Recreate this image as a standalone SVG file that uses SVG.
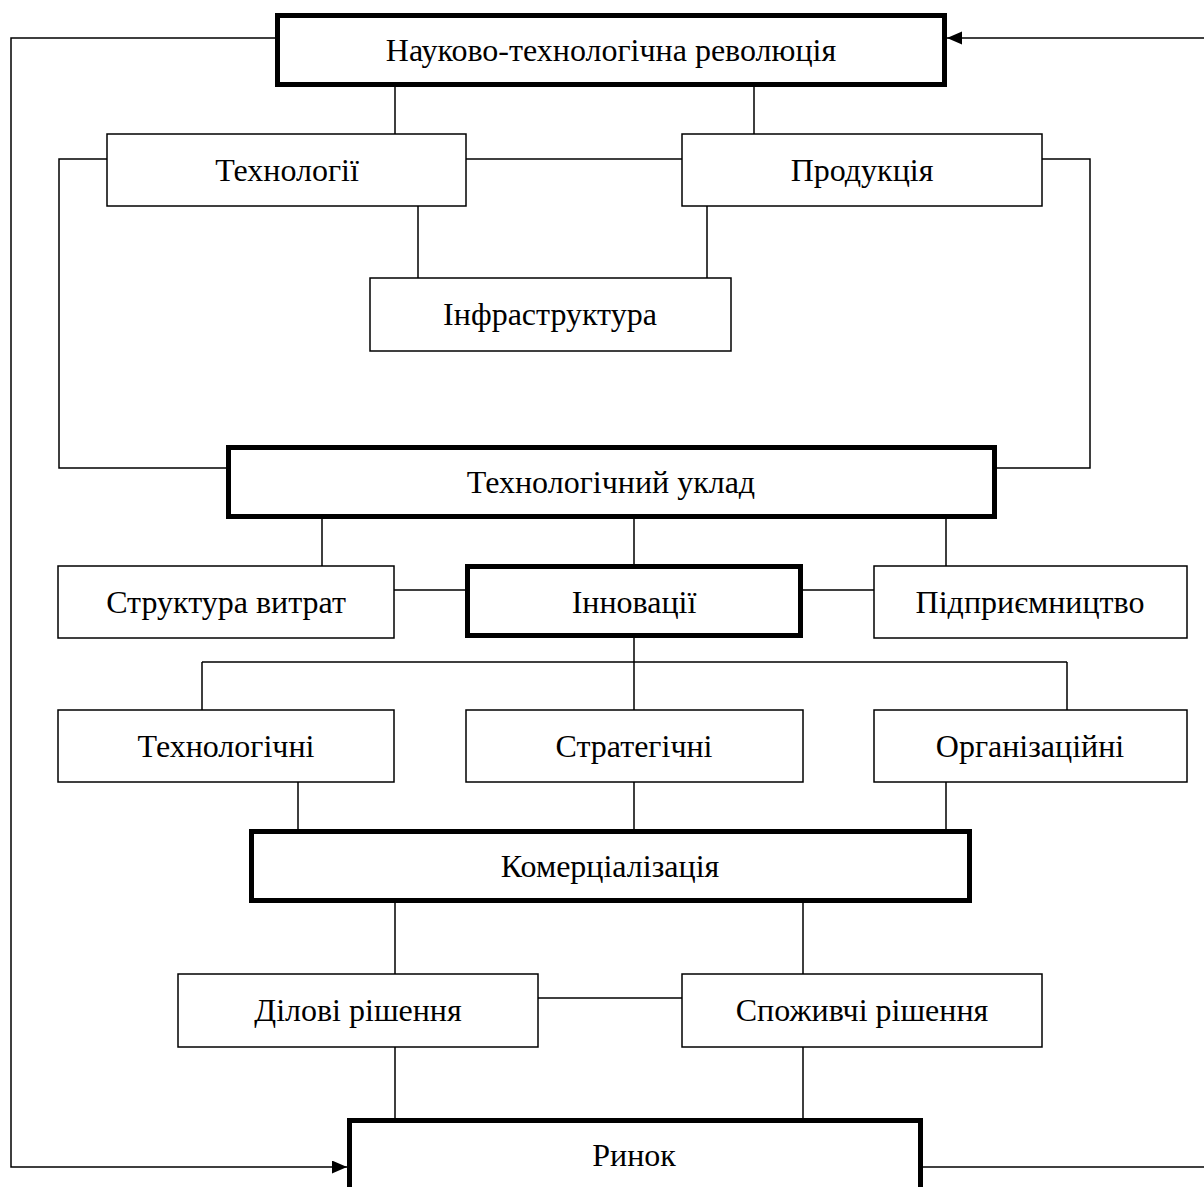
<svg xmlns="http://www.w3.org/2000/svg" width="1204" height="1187" viewBox="0 0 1204 1187">
<style>
.box{fill:#fff;stroke:#000;stroke-width:1.5}
.thick{fill:#fff;stroke:#000;stroke-width:5}
.lbl{font-family:"Liberation Serif","Times New Roman",serif;font-size:32px;fill:#000;text-anchor:middle}
.con{fill:none;stroke:#000;stroke-width:1.5}
</style>
<defs>
<marker id="arr" markerUnits="userSpaceOnUse" markerWidth="16" markerHeight="14" refX="15" refY="6.5" orient="auto">
<path d="M0,0 L15,6.5 L0,13 z" fill="#000"/>
</marker>
</defs>
<rect width="1204" height="1187" fill="#fff"/>
<g id="connectors" class="con">
<path d="M275,38 H11 V1167 H347" marker-end="url(#arr)"/>
<path d="M1204,38 H947" marker-end="url(#arr)"/>
<path d="M922,1167 H1204"/>
<path d="M395,87 V134 M754,87 V134"/>
<path d="M466,159 H682"/>
<path d="M107,159 H59 V468 H226"/>
<path d="M1042,159 H1090 V468 H996"/>
<path d="M418,206 V278 M707,206 V278"/>
<path d="M322,519 V566 M634,519 V566 M946,519 V566"/>
<path d="M394,590 H465 M803,590 H874"/>
<path d="M634,638 V710 M202,662 H1067 M202,662 V710 M1067,662 V710"/>
<path d="M298,782 V829 M634,782 V829 M946,782 V829"/>
<path d="M395,902 V974 M803,902 V974"/>
<path d="M538,998 H682"/>
<path d="M395,1047 V1118 M803,1047 V1118"/>
</g>
<g id="n-revolution"><rect class="thick" x="277.5" y="15.5" width="667" height="69"/><text class="lbl" x="611" y="61">Науково-технологічна революція</text></g>
<g id="n-tech"><rect class="box" x="107" y="134" width="359" height="72"/><text class="lbl" x="287" y="181">Технології</text></g>
<g id="n-prod"><rect class="box" x="682" y="134" width="360" height="72"/><text class="lbl" x="862" y="181">Продукція</text></g>
<g id="n-infra"><rect class="box" x="370" y="278" width="361" height="73"/><text class="lbl" x="550" y="325">Інфраструктура</text></g>
<g id="n-uklad"><rect class="thick" x="228.5" y="447.5" width="766" height="69"/><text class="lbl" x="611" y="493">Технологічний уклад</text></g>
<g id="n-struct"><rect class="box" x="58" y="566" width="336" height="72"/><text class="lbl" x="226" y="613">Структура витрат</text></g>
<g id="n-innov"><rect class="thick" x="467.5" y="566.5" width="333" height="69"/><text class="lbl" x="634" y="613">Інновації</text></g>
<g id="n-entre"><rect class="box" x="874" y="566" width="313" height="72"/><text class="lbl" x="1030" y="613">Підприємництво</text></g>
<g id="n-technol"><rect class="box" x="58" y="710" width="336" height="72"/><text class="lbl" x="226" y="757">Технологічні</text></g>
<g id="n-strat"><rect class="box" x="466" y="710" width="337" height="72"/><text class="lbl" x="634" y="757">Стратегічні</text></g>
<g id="n-org"><rect class="box" x="874" y="710" width="313" height="72"/><text class="lbl" x="1030" y="757">Організаційні</text></g>
<g id="n-comm"><rect class="thick" x="251.5" y="831.5" width="718" height="69"/><text class="lbl" x="610" y="877">Комерціалізація</text></g>
<g id="n-bus"><rect class="box" x="178" y="974" width="360" height="73"/><text class="lbl" x="358" y="1021">Ділові рішення</text></g>
<g id="n-cons"><rect class="box" x="682" y="974" width="360" height="73"/><text class="lbl" x="862" y="1021">Споживчі рішення</text></g>
<g id="n-market"><rect class="thick" x="349.5" y="1120.5" width="571" height="80"/><text class="lbl" x="634" y="1166">Ринок</text></g>
</svg>
